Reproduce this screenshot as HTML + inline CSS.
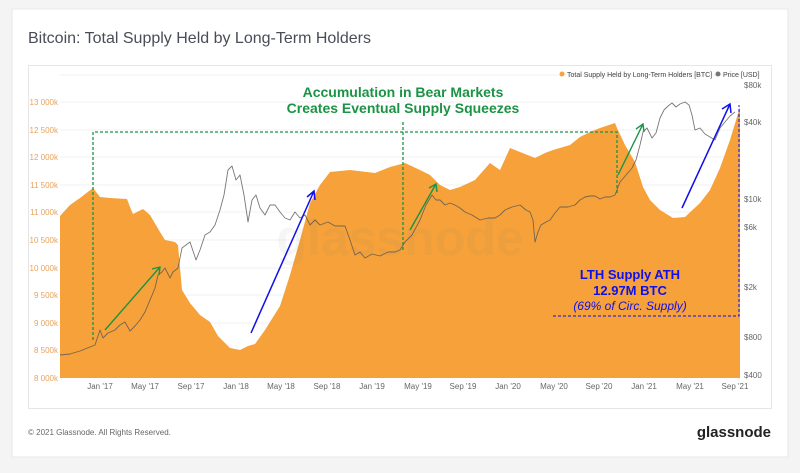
<!DOCTYPE html>
<html><head><meta charset="utf-8"><style>
body{margin:0;width:800px;height:468px;background:#f4f4f5;font-family:"Liberation Sans",sans-serif;overflow:hidden}
</style></head><body>
<svg width="800" height="468" xmlns="http://www.w3.org/2000/svg" font-family="Liberation Sans, sans-serif">
<rect x="12" y="9" width="776" height="448" fill="#fff" stroke="#e8e8ea"/>
<text x="28" y="43" font-size="16" fill="#4a4d57">Bitcoin: Total Supply Held by Long-Term Holders</text>
<rect x="28.5" y="65.5" width="743" height="343" fill="#fff" stroke="#e6e6e8"/>
<g stroke="#f0f0f2" stroke-width="1">
<line x1="60" y1="75" x2="740" y2="75"/><line x1="60" y1="102" x2="740" y2="102"/><line x1="60" y1="130" x2="740" y2="130"/><line x1="60" y1="157" x2="740" y2="157"/><line x1="60" y1="185" x2="740" y2="185"/><line x1="60" y1="212" x2="740" y2="212"/><line x1="60" y1="240" x2="740" y2="240"/><line x1="60" y1="268" x2="740" y2="268"/><line x1="60" y1="295" x2="740" y2="295"/><line x1="60" y1="323" x2="740" y2="323"/><line x1="60" y1="350" x2="740" y2="350"/>
</g>
<g font-size="8" fill="#e8a25a" text-anchor="end">
<text x="58" y="105">13 000k</text><text x="58" y="133">12 500k</text><text x="58" y="160">12 000k</text><text x="58" y="188">11 500k</text><text x="58" y="215">11 000k</text><text x="58" y="243">10 500k</text><text x="58" y="271">10 000k</text><text x="58" y="298">9 500k</text><text x="58" y="326">9 000k</text><text x="58" y="353">8 500k</text><text x="58" y="381">8 000k</text>
</g>
<g font-size="8" fill="#666" text-anchor="start">
<text x="744" y="88">$80k</text><text x="744" y="125">$40k</text><text x="744" y="202">$10k</text><text x="744" y="230">$6k</text><text x="744" y="290">$2k</text><text x="744" y="340">$800</text><text x="744" y="378">$400</text>
</g>
<g font-size="8" fill="#666" text-anchor="middle">
<text x="100" y="389">Jan '17</text><text x="145" y="389">May '17</text><text x="191" y="389">Sep '17</text><text x="236" y="389">Jan '18</text><text x="281" y="389">May '18</text><text x="327" y="389">Sep '18</text><text x="372" y="389">Jan '19</text><text x="418" y="389">May '19</text><text x="463" y="389">Sep '19</text><text x="508" y="389">Jan '20</text><text x="554" y="389">May '20</text><text x="599" y="389">Sep '20</text><text x="644" y="389">Jan '21</text><text x="690" y="389">May '21</text><text x="735" y="389">Sep '21</text>
</g>
<circle cx="562" cy="74" r="2.5" fill="#f7a23a"/><text x="567" y="77" font-size="7" fill="#444">Total Supply Held by Long-Term Holders [BTC]</text>
<circle cx="718" cy="74" r="2.5" fill="#777"/><text x="723" y="77" font-size="7" fill="#444">Price [USD]</text>
<polygon fill="#f6a139" points="60,378 60,216 70,205 80,198 93,188 100,197 110,198 127,199 130,207 133,214 143,209 150,215 160,232 165,240 175,242 178,245 182,290 190,303 200,315 210,322 218,336 230,348 240,350 248,346 255,344 265,330 280,306 290,275 300,240 310,203 320,185 330,172 350,170 375,173 390,167 405,163 420,170 430,175 440,185 450,190 460,187 475,180 490,163 500,170 510,148 520,152 535,158 545,153 553,150 570,145 580,137 590,132 600,128 615,123 617,128 625,145 635,162 643,187 650,200 660,210 673,218 685,217 700,203 710,190 720,168 730,140 740,107 740,378"/>
<text x="400" y="255" font-size="50" font-weight="bold" fill="#888" opacity="0.07" text-anchor="middle">glassnode</text>
<polyline fill="none" stroke="#555" stroke-opacity="0.8" stroke-width="0.9" stroke-linejoin="round" points="60,355 70,354 80,351 90,347 95,345 100,330 103,338 108,333 115,330 120,325 125,322 130,331 135,326 140,320 145,312 150,300 155,288 158,275 162,272 165,268 170,278 173,272 178,268 182,248 186,245 190,242 196,260 200,250 205,235 210,232 215,225 220,210 224,195 228,170 232,166 236,180 240,175 244,195 248,222 252,200 256,195 260,208 265,215 270,205 275,205 280,212 285,218 290,220 295,212 300,218 305,215 310,225 315,220 320,225 328,222 335,226 345,226 350,240 355,255 360,252 365,258 372,254 380,256 388,252 395,252 400,250 405,242 412,235 420,220 426,205 432,195 436,200 440,200 445,205 450,203 455,205 460,208 465,212 472,215 480,220 488,218 495,218 500,215 505,210 512,207 520,205 526,210 530,212 533,220 535,242 538,232 541,225 546,222 550,220 555,213 560,207 568,207 575,205 580,200 585,197 590,196 595,196 600,199 605,197 610,197 615,195 620,182 626,175 632,168 636,160 640,145 643,132 647,128 652,138 656,133 660,118 664,110 668,106 672,103 676,107 680,104 685,102 689,105 692,115 695,130 700,128 705,134 710,137 715,140 720,128 725,122 730,116 735,112"/>
<g stroke="#1a9444" stroke-width="1.3" fill="none" stroke-dasharray="3,2">
<polyline points="93,340 93,132 617,132 617,193"/>
<line x1="403" y1="122" x2="403" y2="250"/>
</g>
<g stroke="#1a9444" stroke-width="1.4" fill="none">
<line x1="105" y1="330" x2="160" y2="267"/><polyline points="152,269 160,267 159,275"/>
<line x1="410" y1="230" x2="436" y2="184"/><polyline points="429,188 436,184 437,192"/>
<line x1="618" y1="175" x2="643" y2="124"/><polyline points="636,129 643,124 644,132"/>
</g>
<g stroke="#1010e8" stroke-width="1.5" fill="none">
<line x1="251" y1="333" x2="314" y2="191"/><polyline points="307,197 314,191 315,200"/>
<line x1="682" y1="208" x2="730" y2="104"/><polyline points="722,109 730,104 731,113"/>
</g>
<g stroke="#1010e8" stroke-width="1" fill="none" stroke-dasharray="3,2">
<polyline points="553,316 739,316 739,105"/>
</g>
<g font-size="14" font-weight="bold" fill="#1a9444" text-anchor="middle">
<text x="403" y="97">Accumulation in Bear Markets</text>
<text x="403" y="113">Creates Eventual Supply Squeezes</text>
</g>
<g fill="#1010e8" text-anchor="middle">
<text x="630" y="279" font-size="13" font-weight="bold">LTH Supply ATH</text>
<text x="630" y="295" font-size="13" font-weight="bold">12.97M BTC</text>
<text x="630" y="310" font-size="12" font-style="italic">(69% of Circ. Supply)</text>
</g>
<text x="28" y="435" font-size="8" fill="#666">© 2021 Glassnode. All Rights Reserved.</text>
<text x="771" y="437" font-size="15" font-weight="bold" fill="#222" text-anchor="end">glassnode</text>
</svg>
</body></html>
